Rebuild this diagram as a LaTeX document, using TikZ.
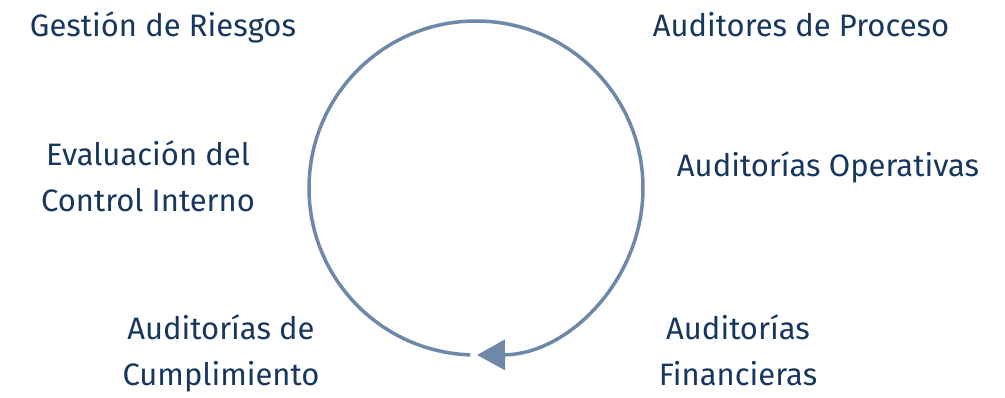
\documentclass[tikz,border=0pt]{standalone}
\usepackage{fontspec}
\setmainfont{Fira Sans}
\usetikzlibrary{arrows.meta,calc}
\definecolor{txtnavy}{HTML}{17375F}
\definecolor{arcblue}{HTML}{6E88A9}
\begin{document}
\begin{tikzpicture}[x=1pt,y=-1pt,
  lbl/.style={text=txtnavy, inner sep=0pt, anchor=base, align=center,
    font=\fontsize{31}{46}\selectfont},
  cyc/.style={draw=arcblue, line width=3.5pt,
    -{Triangle[length=28pt,width=30pt]}}]
\useasboundingbox (0,0) rectangle (1005,398);
\coordinate (ctr) at (476,188);
\draw[cyc] ($(ctr)+(92:167)$) arc[start angle=92, end angle=449.66, radius=167];
\node[lbl] (risk) at (163,37) {Gestión de Riesgos};
\node[lbl] (proc) at (801,37) {Auditores de Proceso};
\node[lbl] (ctrl) at (148,212) {Evaluación del\\Control Interno};
\node[lbl] (oper) at (828,177) {Auditorías Operativas};
\node[lbl] (cump) at (221,385) {Auditorías de\\Cumplimiento};
\node[lbl] (fin) at (738,385) {Auditorías\\Financieras};
\end{tikzpicture}
\end{document}
